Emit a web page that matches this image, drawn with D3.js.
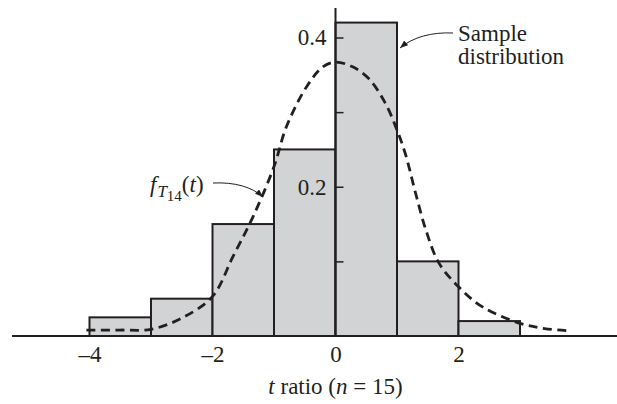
<!DOCTYPE html>
<html>
<head>
<meta charset="utf-8">
<script src="https://cdn.jsdelivr.net/npm/d3@7"></script>
<style>
  body { margin: 0; background: #fff; }
  svg text { font-family: "Liberation Serif", "DejaVu Serif", "Times New Roman", Times, serif; fill: #231f20; }
</style>
</head>
<body>
<div id="chart"></div>
<script>
// histogram bins (left edge, width 1) and heights
var binStarts = [-4, -3, -2, -1, 0, 1, 2];
var binDensity = [0.025, 0.05, 0.15, 0.25, 0.42, 0.10, 0.02];

// dashed curve f_T14(t)
var curveT = [-4.05, -3.5, -3.0, -2.5, -2.0, -1.67, -1.34, -1.0, -0.8, -0.47, -0.2, 0.0,
              0.27, 0.54, 0.81, 1.0, 1.14, 1.3, 1.47, 1.68, 2.0, 2.39, 3.0, 3.4, 3.8];
var curveF = [0.008, 0.008, 0.009, 0.024, 0.053, 0.106, 0.16, 0.227, 0.28, 0.334, 0.361, 0.367,
              0.361, 0.345, 0.312, 0.276, 0.243, 0.192, 0.142, 0.098, 0.066, 0.039, 0.017, 0.01, 0.007];

var xTicks = [-4, -2, 0, 2];
var yTicks = [0.1, 0.2, 0.3, 0.4];
var yLabelled = [0.2, 0.4];

var svg_width = 617, svg_height = 404;
var ink = "#231f20";
var fs = 23;

var svg = d3.select("#chart").append("svg")
  .attr("width", svg_width)
  .attr("height", svg_height);

var x = d3.scaleLinear().domain([-4, 3]).range([89.5, 520]);
var y = d3.scaleLinear().domain([0, 0.4]).range([336, 37.5]);

var defs = svg.append("defs");
defs.append("marker")
  .attr("id", "head")
  .attr("markerUnits", "userSpaceOnUse")
  .attr("markerWidth", 10).attr("markerHeight", 8)
  .attr("refX", 8).attr("refY", 3)
  .attr("orient", "auto")
  .append("path")
  .attr("d", "M0,0 L8,3 L0,6 Z")
  .attr("fill", ink);

// bars
svg.selectAll("rect.bin")
  .data(binStarts)
  .enter()
  .append("rect")
  .attr("class", "bin")
  .attr("x", function(d){ return x(d); })
  .attr("y", function(d, i){ return y(binDensity[i]); })
  .attr("width", function(d){ return x(d + 1) - x(d); })
  .attr("height", function(d, i){ return y(0) - y(binDensity[i]); })
  .attr("fill", "#d1d3d4")
  .attr("stroke", ink)
  .attr("stroke-width", 2);

// y axis (ticks point right, labels on left)
var yAxis = d3.axisLeft(y)
  .tickValues(yTicks)
  .tickSizeInner(-8)
  .tickSizeOuter(0)
  .tickPadding(9)
  .tickFormat(function(d){ return yLabelled.indexOf(d) >= 0 ? d3.format(".1f")(d) : ""; });

var gy = svg.append("g")
  .attr("transform", "translate(" + x(0) + ",0)")
  .call(yAxis);
gy.select(".domain").remove();
gy.attr("font-family", null).attr("font-size", null);
gy.selectAll("line").attr("stroke", ink).attr("stroke-width", 1.5);
gy.selectAll("text").attr("font-size", fs).attr("fill", ink);

svg.append("line")
  .attr("x1", x(0)).attr("x2", x(0))
  .attr("y1", 8).attr("y2", y(0))
  .attr("stroke", ink).attr("stroke-width", 2);

// dashed density curve
var line = d3.line()
  .x(function(d, i){ return x(curveT[i]); })
  .y(function(d, i){ return y(curveF[i]); })
  .curve(d3.curveCatmullRom);

svg.append("path")
  .attr("d", line(curveT))
  .attr("fill", "none")
  .attr("stroke", ink)
  .attr("stroke-width", 2.8)
  .attr("stroke-dasharray", "9,5.5");

// x axis
svg.append("line")
  .attr("x1", 12).attr("x2", svg_width)
  .attr("y1", y(0)).attr("y2", y(0))
  .attr("stroke", ink).attr("stroke-width", 2);

var xAxis = d3.axisBottom(x)
  .tickValues(xTicks)
  .tickSize(0)
  .tickPadding(10)
  .tickFormat(function(d){ return d < 0 ? "\u2013" + Math.abs(d) : String(d); });

var gx = svg.append("g")
  .attr("transform", "translate(0," + y(0) + ")")
  .call(xAxis);
gx.select(".domain").remove();
gx.attr("font-family", null).attr("font-size", null);
gx.selectAll("text").attr("font-size", fs).attr("fill", ink);

// axis title
var title = svg.append("text")
  .attr("x", x(0))
  .attr("y", 394)
  .attr("text-anchor", "middle")
  .attr("font-size", fs);
title.append("tspan").attr("font-style", "italic").text("t");
title.append("tspan").text(" ratio (");
title.append("tspan").attr("font-style", "italic").text("n");
title.append("tspan").text(" = 15)");

// "Sample distribution" note
svg.append("text").attr("x", 458).attr("y", 41).attr("font-size", fs).text("Sample");
svg.append("text").attr("x", 458).attr("y", 64).attr("font-size", fs).text("distribution");
svg.append("path")
  .attr("d", "M453,33 C432,32 413,37 400,48")
  .attr("fill", "none")
  .attr("stroke", ink)
  .attr("stroke-width", 1)
  .attr("marker-end", "url(#head)");

// f_T14(t) note
var fl = svg.append("text").attr("x", 150).attr("y", 192).attr("font-size", fs);
fl.append("tspan").attr("font-style", "italic").text("f");
fl.append("tspan").attr("font-style", "italic").attr("font-size", 17).attr("dy", 5).attr("dx", 1).text("T");
fl.append("tspan").attr("font-size", 15).attr("dy", 4).text("14");
fl.append("tspan").attr("dy", -9).text("(");
fl.append("tspan").attr("font-style", "italic").text("t");
fl.append("tspan").text(")");
svg.append("path")
  .attr("d", "M213,183 C235,182 252,187 263,197")
  .attr("fill", "none")
  .attr("stroke", ink)
  .attr("stroke-width", 1)
  .attr("marker-end", "url(#head)");
</script>
</body>
</html>
